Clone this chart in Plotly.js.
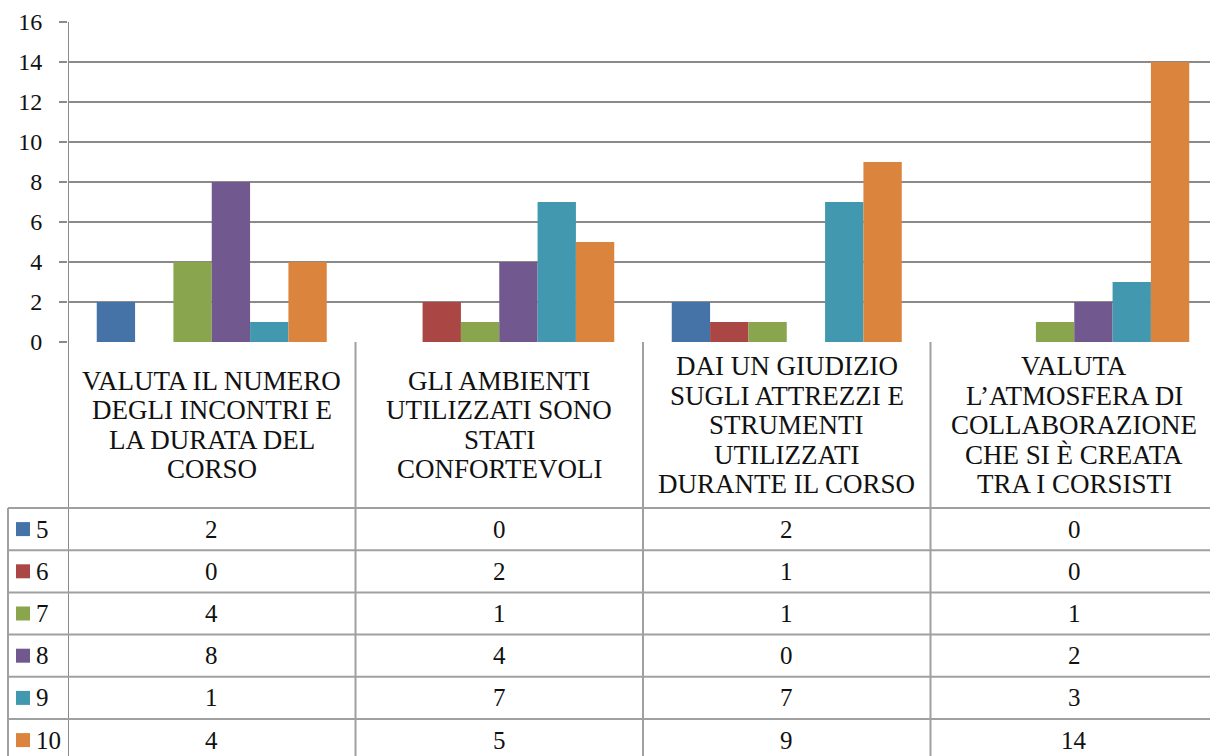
<!DOCTYPE html>
<html>
<head>
<meta charset="utf-8">
<script src="https://cdn.plot.ly/plotly-3.0.1.min.js"></script>
<style>
html,body{margin:0;padding:0;overflow:hidden;background:#fff;}
#chart{width:1218px;height:756px;}
</style>
</head>
<body>
<div id="chart"></div>
<script>
// ---- data ----
const categories = [
  "VALUTA IL NUMERO DEGLI INCONTRI E LA DURATA DEL CORSO",
  "GLI AMBIENTI UTILIZZATI SONO STATI CONFORTEVOLI",
  "DAI UN GIUDIZIO SUGLI ATTREZZI E STRUMENTI UTILIZZATI DURANTE IL CORSO",
  "VALUTA L’ATMOSFERA DI COLLABORAZIONE CHE SI È CREATA TRA I CORSISTI"
];
const seriesNames = ["5", "6", "7", "8", "9", "10"];
const s5  = [2, 0, 2, 0];
const s6  = [0, 2, 1, 0];
const s7  = [4, 1, 1, 1];
const s8  = [8, 4, 0, 2];
const s9  = [1, 7, 7, 3];
const s10 = [4, 5, 9, 14];
const seriesValues = [s5, s6, s7, s8, s9, s10];
const yTicks = [0, 2, 4, 6, 8, 10, 12, 14, 16];

// ---- style ----
const colors = ["#4572A7", "#AA4643", "#89A54E", "#71588F", "#4198AF", "#DB843D"];
const FONT = "'Liberation Serif', 'Times New Roman', Times, serif";
const TXT = "#111111";
const W = 1218, H = 756, ML = 68, MR = 0, MT = 22, MB = 414;
const gridColor = "#8a8a8a";
const tableColor = "#a0a0a0";

function px2x(p){ return (p - ML) / (W - ML - MR); }
function py2y(p){ return (H - MB - p) / (H - MT - MB); }

function wrap(text, maxChars){
  const words = text.split(" ");
  const lines = [];
  let cur = "";
  words.forEach(w => {
    if (cur === "") cur = w;
    else if ((cur + " " + w).length <= maxChars) cur += " " + w;
    else { lines.push(cur); cur = w; }
  });
  if (cur) lines.push(cur);
  return lines;
}

const xIdx = categories.map((c, i) => i);

const traces = seriesNames.map((name, i) => ({
  type: "bar",
  name: name,
  x: xIdx,
  y: seriesValues[i],
  marker: { color: colors[i], line: { width: 0 } },
  hoverinfo: "y+name"
}));

const shapes = [];
const annotations = [];

const headerTop = 342, headerBottom = 508, rowH = 42.2, lineH = 29.5;
const tableBottom = headerBottom + rowH * seriesNames.length;

for (let k = 0; k <= categories.length; k++) {
  shapes.push({
    type: "line", xref: "x", yref: "paper",
    x0: k - 0.5, x1: k - 0.5,
    y0: k === 0 ? py2y(MT) : py2y(headerTop), y1: py2y(tableBottom + 4),
    line: { color: k === 0 ? gridColor : tableColor, width: 2 }
  });
}
shapes.push({
  type: "line", xref: "paper", yref: "paper",
  x0: px2x(8), x1: px2x(8), y0: py2y(headerBottom), y1: py2y(tableBottom + 4),
  line: { color: tableColor, width: 2 }
});
for (let r = 0; r <= seriesNames.length; r++) {
  const yy = headerBottom + rowH * r;
  shapes.push({
    type: "line", xref: "paper", yref: "paper",
    x0: px2x(8), x1: 1.01, y0: py2y(yy), y1: py2y(yy),
    line: { color: tableColor, width: 2 }
  });
}

categories.forEach((c, j) => {
  const lines = wrap(c, 16);
  const mid = (headerTop + headerBottom) / 2;
  lines.forEach((ln, k) => {
    annotations.push({
      xref: "x", yref: "paper", x: j,
      y: py2y(mid + (k - (lines.length - 1) / 2) * lineH),
      text: ln, showarrow: false, xanchor: "center", yanchor: "middle",
      font: { family: FONT, size: 27, color: TXT }
    });
  });
});

seriesNames.forEach((name, i) => {
  const cy = headerBottom + rowH * (i + 0.5);
  shapes.push({
    type: "rect", xref: "paper", yref: "paper",
    x0: px2x(16), x1: px2x(30), y0: py2y(cy - 7), y1: py2y(cy + 7),
    fillcolor: colors[i], line: { width: 0 }
  });
  annotations.push({
    xref: "paper", yref: "paper", x: px2x(34), y: py2y(cy),
    text: name, showarrow: false, xanchor: "left", yanchor: "middle",
    font: { family: FONT, size: 25, color: TXT }
  });
  seriesValues[i].forEach((v, j) => {
    annotations.push({
      xref: "x", yref: "paper", x: j, y: py2y(cy),
      text: String(v), showarrow: false, xanchor: "center", yanchor: "middle",
      font: { family: FONT, size: 25, color: TXT }
    });
  });
});

const layout = {
  width: W, height: H,
  margin: { l: ML, r: MR, t: MT, b: MB, pad: 0 },
  paper_bgcolor: "#fff", plot_bgcolor: "#fff",
  showlegend: false,
  barmode: "group",
  bargap: 0.2, bargroupgap: 0,
  font: { family: FONT, size: 24, color: TXT },
  xaxis: {
    range: [-0.5, categories.length - 0.5],
    showticklabels: false, showgrid: false, zeroline: false,
    showline: false, ticks: "", fixedrange: true
  },
  yaxis: {
    range: [0, 16], tickvals: yTicks, ticktext: yTicks.map(String),
    showgrid: true, gridcolor: gridColor, gridwidth: 2,
    zeroline: false, showline: false,
    ticks: "outside", ticklen: 8, tickcolor: gridColor, tickwidth: 2,
    ticklabelstandoff: 12,
    tickfont: { family: FONT, size: 24, color: TXT },
    fixedrange: true
  },
  shapes: shapes,
  annotations: annotations
};

Plotly.newPlot("chart", traces, layout, { displayModeBar: false, staticPlot: true });
</script>
</body>
</html>
